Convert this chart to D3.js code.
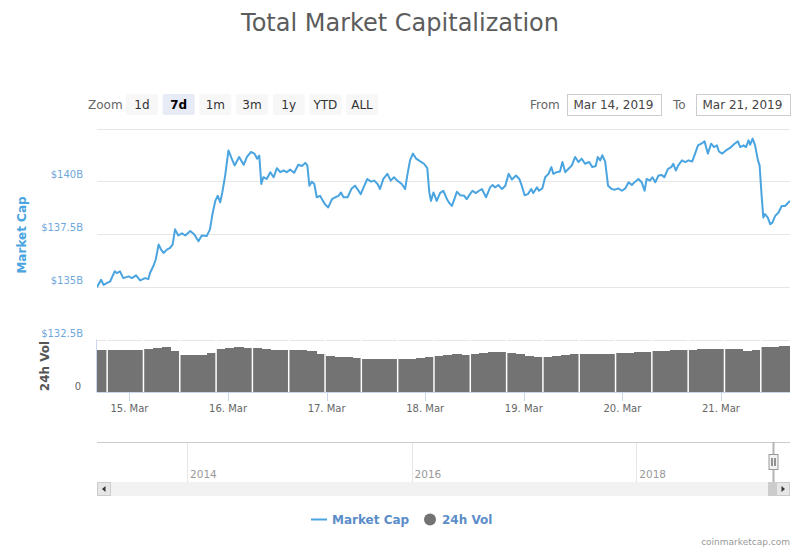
<!DOCTYPE html>
<html>
<head>
<meta charset="utf-8">
<script src="https://cdn.jsdelivr.net/npm/d3@7"></script>
<style>
  body { margin: 0; background: #fff; }
  svg { display: block; font-family: "DejaVu Sans", sans-serif; }
</style>
</head>
<body>
<svg id="chart" width="800" height="550"></svg>
<script>
// ---- data (hours counted from 14 Mar 2019 00:00 UTC) ----
const baseDate = Date.UTC(2019, 2, 14);

const capHours = [
  16.1, 17.1, 17.7, 18.5, 19.3, 20.4, 20.9, 21.7, 22.5, 23.8, 24.6, 25.6, 26.6, 27.8, 28.6, 29.0,
  29.8, 30.4, 31.1, 31.7, 32.3, 33.1, 33.9, 34.5, 35.1, 35.9, 36.8, 37.6, 38.8, 39.8, 40.8, 41.6,
  42.8, 43.6, 44.2, 44.9, 45.5, 46.1, 46.6, 47.3, 48.1, 48.9, 49.6, 50.7, 51.8, 52.6, 53.6, 54.4,
  55.1, 55.6, 56.1, 56.6, 57.4, 58.3, 59.1, 59.9, 60.7, 61.5, 62.3, 63.1, 64.1, 65.1, 66.0, 66.8,
  67.3, 67.8, 68.4, 69.0, 69.6, 70.4, 71.1, 71.6, 72.4, 73.3, 74.1, 74.9, 75.5, 76.1, 77.1, 78.1,
  78.9, 79.5, 80.3, 81.0, 81.9, 82.8, 83.6, 84.4, 85.0, 85.8, 86.8, 87.6, 88.4, 89.2, 90.3, 91.1,
  91.7, 92.3, 93.0, 93.8, 94.8, 95.7, 96.5, 97.0, 97.4, 98.0, 98.8, 99.6, 100.4, 101.3, 101.9, 102.5,
  103.1, 103.7, 104.5, 105.5, 106.1, 106.9, 107.5, 108.3, 109.1, 109.8, 110.8, 111.8, 112.4, 113.0, 113.8, 114.7,
  115.5, 116.3, 117.1, 118.1, 118.9, 119.5, 120.2, 121.0, 121.8, 122.3, 123.2, 123.7, 124.5, 125.2, 126.0, 126.7,
  127.2, 128.0, 128.8, 129.4, 130.1, 130.9, 131.7, 132.5, 133.3, 134.1, 134.9, 135.9, 136.7, 137.5, 138.0, 138.6,
  139.1, 139.8, 140.5, 141.4, 142.2, 143.0, 143.9, 144.7, 145.5, 146.3, 147.1, 147.9, 148.7, 149.4, 149.9, 150.7,
  151.3, 152.0, 152.8, 153.6, 154.2, 155.1, 155.9, 156.4, 157.0, 157.6, 158.5, 159.3, 160.1, 161.0, 161.7, 162.4,
  163.2, 164.0, 164.8, 165.6, 166.3, 167.0, 167.5, 168.3, 169.2, 170.2, 171.3, 172.1, 172.7, 173.5, 174.1, 174.7,
  175.1, 175.7, 176.3, 177.0, 177.4, 177.9, 178.3, 178.7, 179.4, 180.0, 180.5, 181.2, 182.0, 182.8, 183.6, 184.4,
  184.8
];

// market cap, billions USD
const capValues = [
  134.98, 135.33, 135.09, 135.17, 135.25, 135.73, 135.65, 135.73, 135.41, 135.49, 135.41, 135.54, 135.30, 135.41, 135.36, 135.65,
  135.97, 136.29, 137.00, 136.76, 136.60, 136.76, 136.84, 137.00, 137.72, 137.43, 137.53, 137.43, 137.64, 137.48, 137.16, 137.43,
  137.40, 137.72, 138.44, 139.07, 139.31, 139.00, 139.47, 140.27, 141.46, 141.07, 140.75, 141.15, 140.78, 141.15, 141.39, 141.31,
  141.07, 141.22, 139.87, 140.19, 140.11, 140.43, 140.19, 140.62, 140.43, 140.51, 140.43, 140.55, 140.40, 140.78, 140.72, 140.87,
  140.75, 139.79, 139.98, 139.87, 139.24, 139.31, 139.07, 138.91, 138.76, 139.15, 139.24, 139.31, 139.47, 139.24, 139.24, 139.66,
  139.79, 139.63, 139.39, 139.71, 140.11, 139.98, 140.03, 139.87, 139.63, 140.11, 140.35, 140.03, 140.19, 140.03, 139.87, 139.63,
  140.35, 140.99, 141.31, 141.07, 140.94, 140.83, 140.62, 139.47, 139.07, 139.47, 139.07, 139.44, 139.55, 139.15, 138.96, 138.83,
  139.15, 139.50, 139.34, 139.31, 139.15, 139.39, 139.55, 139.44, 139.55, 139.63, 139.24, 139.71, 139.82, 139.71, 139.82, 139.63,
  139.79, 140.35, 140.08, 140.27, 140.11, 139.79, 139.34, 139.39, 139.63, 139.44, 139.71, 139.55, 139.66, 140.19, 140.35, 140.67,
  140.35, 140.43, 140.46, 140.91, 140.43, 140.59, 140.75, 141.15, 140.91, 141.07, 140.83, 140.91, 140.67, 140.72, 141.15, 140.99,
  141.23, 140.94, 139.79, 139.63, 139.60, 139.66, 139.55, 139.66, 139.95, 139.82, 139.98, 140.11, 139.95, 139.55, 140.11, 140.03,
  140.19, 139.95, 140.27, 140.30, 140.19, 140.59, 140.67, 140.83, 140.51, 140.75, 140.99, 140.91, 140.99, 140.94, 141.31, 141.70,
  141.78, 141.89, 141.31, 141.78, 141.62, 141.70, 141.41, 141.31, 141.46, 141.58, 141.78, 141.89, 141.62, 141.70, 141.62, 141.94,
  141.73, 142.02, 141.70, 140.99, 140.75, 139.31, 138.28, 138.44, 138.28, 137.96, 138.04, 138.36, 138.52, 138.83, 138.83, 138.99,
  139.07
];

// 24h volume, billions USD, one bin every volStepHours, grouped in columns of volPerGroup bins
const volStartHour = 9.73;
const volStepHours = 2.21;
const volPerGroup = 4;
const volValues = [
  40.5, 40.5, 40.5, 40.5, 40.5, 40.5, 40.5, 40.5, 40.9, 42.4, 42.8, 39.7, 35.5, 35.5, 35.9, 37.8,
  41.2, 42.4, 43.1, 42.4, 41.8, 40.9, 40.5, 40.5, 40.5, 40.2, 39.3, 36.4, 34.2, 33.6, 33.3, 32.6,
  31.7, 31.7, 31.7, 31.7, 31.7, 31.7, 32.3, 33.3, 34.8, 35.2, 36.1, 35.5, 36.1, 37.4, 38.3, 38.6,
  37.8, 36.1, 34.5, 33.6, 33.8, 34.5, 35.5, 36.1, 36.1, 36.1, 36.1, 36.4, 37.4, 37.6, 38.0, 38.6,
  39.5, 39.7, 39.9, 40.2, 40.5, 40.7, 40.9, 41.2, 41.2, 40.7, 39.5, 40.2, 43.1, 43.3, 43.7, 43.7
];

const capTicks = [132.5, 135, 137.5, 140, 142.5];
const volTicks = [0, 50];
const zoomButtons = ["1d", "7d", "1m", "3m", "1y", "YTD", "ALL"];
const zoomSelected = "7d";
const rangeFrom = "Mar 14, 2019";
const rangeTo = "Mar 21, 2019";
const navDomain = ["2013-03-14", "2019-05-16"];

// ---- layout ----
const W = 800, H = 550;
const left = 97, right = 790;
const capColor = "#4aa4e0";
const volColor = "#737373";

const hourToDate = (h) => new Date(baseDate + h * 3600e3);
const capData = capHours.map((h, i) => ({ date: hourToDate(h), value: capValues[i] }));
const volData = volValues.map((v, i) => ({
  i,
  start: hourToDate(volStartHour + i * volStepHours),
  end: hourToDate(volStartHour + (i + 1) * volStepHours),
  value: v,
}));

const svg = d3.select("#chart");

const x = d3.scaleUtc().domain(d3.extent(capData, (d) => d.date)).range([left, right]);
const yCap = d3.scaleLinear().domain([132.5, 142.5]).range([339.5, 128.5]);
const yVol = d3.scaleLinear().domain([0, 50]).range([392.3, 339.7]);

svg.append("defs").append("clipPath").attr("id", "plotClip")
  .append("rect").attr("x", left).attr("y", 100).attr("width", right - left).attr("height", 300);

// title
svg.append("text")
  .attr("x", W / 2).attr("y", 30.5)
  .attr("text-anchor", "middle")
  .attr("font-size", 24).attr("fill", "#5c5c5c")
  .text("Total Market Capitalization");

// range selector
const rs = svg.append("g");
rs.append("text").attr("x", 88).attr("y", 108.5).attr("font-size", 12).attr("fill", "#666").text("Zoom");
const btn = rs.selectAll("g.btn").data(zoomButtons).join("g")
  .attr("class", "btn")
  .attr("transform", (d, i) => `translate(${126 + i * 36.67},94)`);
btn.append("rect").attr("width", 32).attr("height", 21).attr("rx", 2)
  .attr("fill", (d) => (d === zoomSelected ? "#e6ebf5" : "#f7f7f7"));
btn.append("text").attr("x", 16).attr("y", 14.5).attr("text-anchor", "middle")
  .attr("font-size", 12)
  .attr("font-weight", (d) => (d === zoomSelected ? "bold" : "normal"))
  .attr("fill", (d) => (d === zoomSelected ? "#000" : "#333"))
  .text((d) => d);

const inputs = [
  { label: "From", lx: 530, bx: 567.5, value: rangeFrom },
  { label: "To", lx: 673, bx: 696.5, value: rangeTo },
];
inputs.forEach((d) => {
  rs.append("text").attr("x", d.lx).attr("y", 108.5).attr("font-size", 12).attr("fill", "#666").text(d.label);
  rs.append("rect").attr("x", d.bx).attr("y", 94.5).attr("width", 94).attr("height", 21)
    .attr("fill", "#fff").attr("stroke", "#ccc");
  rs.append("text").attr("x", d.bx + 6).attr("y", 108.5).attr("font-size", 12).attr("fill", "#444").text(d.value);
});

// grid lines
const grid = svg.append("g");
grid.selectAll("line.cap").data(capTicks).join("line")
  .attr("x1", left).attr("x2", right)
  .attr("y1", (d) => Math.round(yCap(d)) + 0.5).attr("y2", (d) => Math.round(yCap(d)) + 0.5)
  .attr("stroke", "#e6e6e6");
grid.selectAll("line.vol").data(volTicks.slice(1)).join("line")
  .attr("x1", left).attr("x2", right)
  .attr("y1", (d) => Math.round(yVol(d)) + 0.5).attr("y2", (d) => Math.round(yVol(d)) + 0.5)
  .attr("stroke", "#e6e6e6");

// y labels
svg.append("g").selectAll("text").data(capTicks.filter((t) => t < 142.5)).join("text")
  .attr("x", 83).attr("y", (d) => yCap(d) - 3)
  .attr("text-anchor", "end").attr("font-size", 10).attr("fill", "#6fa8dc")
  .text((d) => `$${d}B`);
svg.append("text").attr("x", 81).attr("y", yVol(0) - 2.5)
  .attr("text-anchor", "end").attr("font-size", 10).attr("fill", "#666").text("0");

svg.append("text")
  .attr("transform", `translate(26,${(yCap(142.5) + yCap(132.5)) / 2 + 1}) rotate(-90)`)
  .attr("text-anchor", "middle").attr("font-size", 12).attr("font-weight", "bold")
  .attr("fill", capColor).text("Market Cap");
svg.append("text")
  .attr("transform", `translate(49,${(yVol(0) + yVol(50)) / 2}) rotate(-90)`)
  .attr("text-anchor", "middle").attr("font-size", 12).attr("font-weight", "bold")
  .attr("fill", "#555").text("24h Vol");

// volume columns
const volG = svg.append("g").attr("clip-path", "url(#plotClip)");
volG.selectAll("rect").data(volData).join("rect")
  .attr("x", (d) => x(d.start))
  .attr("width", (d) => x(d.end) - x(d.start) + 0.6)
  .attr("y", (d) => yVol(d.value))
  .attr("height", (d) => yVol(0) - yVol(d.value))
  .attr("fill", volColor)
  .attr("shape-rendering", "crispEdges");
volG.selectAll("line").data(volData.filter((d) => d.i % volPerGroup === 0)).join("line")
  .attr("x1", (d) => x(d.start)).attr("x2", (d) => x(d.start))
  .attr("y1", yVol(50)).attr("y2", yVol(0))
  .attr("stroke", "#fff").attr("stroke-width", 1.5);

// volume pane left edge + x axis
svg.append("line").attr("x1", left - 0.5).attr("x2", left - 0.5)
  .attr("y1", yVol(50)).attr("y2", yVol(0)).attr("stroke", "#ccd6eb");
svg.append("line").attr("x1", left).attr("x2", right)
  .attr("y1", 392.5).attr("y2", 392.5).attr("stroke", "#ccd6eb");

const dayTicks = x.ticks(d3.utcDay.every(1));
const xAx = svg.append("g");
xAx.selectAll("line").data(dayTicks).join("line")
  .attr("x1", (d) => Math.round(x(d)) + 0.5).attr("x2", (d) => Math.round(x(d)) + 0.5)
  .attr("y1", 392).attr("y2", 401).attr("stroke", "#ccd6eb");
xAx.selectAll("text").data(dayTicks).join("text")
  .attr("x", (d) => x(d)).attr("y", 411.5)
  .attr("text-anchor", "middle").attr("font-size", 10).attr("fill", "#666")
  .text(d3.utcFormat("%-d. %b"));

// market cap line
svg.append("path")
  .datum(capData)
  .attr("clip-path", "url(#plotClip)")
  .attr("fill", "none")
  .attr("stroke", capColor)
  .attr("stroke-width", 2)
  .attr("stroke-linejoin", "round")
  .attr("d", d3.line().x((d) => x(d.date)).y((d) => yCap(d.value)));

// navigator
const xNav = d3.scaleUtc().domain(navDomain.map((s) => new Date(s + "T00:00:00Z"))).range([left, right]);
const nav = svg.append("g");
const yearTicks = xNav.ticks(d3.utcYear.every(2));
nav.selectAll("line.yr").data(yearTicks).join("line")
  .attr("x1", (d) => Math.round(xNav(d)) + 0.5).attr("x2", (d) => Math.round(xNav(d)) + 0.5)
  .attr("y1", 442).attr("y2", 482).attr("stroke", "#e6e6e6");
nav.selectAll("text").data(yearTicks).join("text")
  .attr("x", (d) => xNav(d) + 3).attr("y", 478)
  .attr("font-size", 10.5).attr("fill", "#999")
  .text(d3.utcFormat("%Y"));
nav.append("line").attr("x1", left).attr("x2", right)
  .attr("y1", 442.5).attr("y2", 442.5).attr("stroke", "#ccc");

// scrollbar
nav.append("rect").attr("x", left).attr("y", 482).attr("width", right - left).attr("height", 14).attr("fill", "#f2f2f2");
const selEnd = xNav(capData[capData.length - 1].date);
nav.append("rect").attr("x", selEnd - 5).attr("y", 482).attr("width", 9).attr("height", 14).attr("fill", "#ccc");
[
  { bx: left, dir: -1 },
  { bx: right - 14, dir: 1 },
].forEach((b) => {
  nav.append("rect").attr("x", b.bx + 0.5).attr("y", 482.5).attr("width", 13).attr("height", 13)
    .attr("fill", "#e6e6e6").attr("stroke", "#ccc");
  const cx = b.bx + 7, cy = 489;
  nav.append("path")
    .attr("d", `M${cx - 1.5 * b.dir},${cy - 3}L${cx + 2 * b.dir},${cy}L${cx - 1.5 * b.dir},${cy + 3}Z`)
    .attr("fill", "#333");
});

// navigator handle
const hx = Math.round(selEnd) + 0.5;
nav.append("line").attr("x1", hx).attr("x2", hx).attr("y1", 442).attr("y2", 482)
  .attr("stroke", "#b3b3b3").attr("stroke-width", 2);
nav.append("rect").attr("x", hx - 4.5).attr("y", 454.5).attr("width", 9).attr("height", 15)
  .attr("fill", "#f2f2f2").attr("stroke", "#999");
[-1.5, 1.5].forEach((o) => {
  nav.append("line").attr("x1", hx + o).attr("x2", hx + o).attr("y1", 458).attr("y2", 466).attr("stroke", "#333");
});

// legend
const lg = svg.append("g").attr("font-size", 12).attr("font-weight", "bold");
lg.append("line").attr("x1", 311).attr("x2", 327).attr("y1", 519.5).attr("y2", 519.5)
  .attr("stroke", capColor).attr("stroke-width", 2);
lg.append("text").attr("x", 332).attr("y", 524).attr("fill", "#5b8dc8").text("Market Cap");
lg.append("circle").attr("cx", 430).attr("cy", 519.5).attr("r", 6).attr("fill", volColor);
lg.append("text").attr("x", 442).attr("y", 524).attr("fill", "#5b8dc8").text("24h Vol");

// credits
svg.append("text").attr("x", right).attr("y", 545)
  .attr("text-anchor", "end").attr("font-size", 9).attr("fill", "#999")
  .text("coinmarketcap.com");
</script>
</body>
</html>
